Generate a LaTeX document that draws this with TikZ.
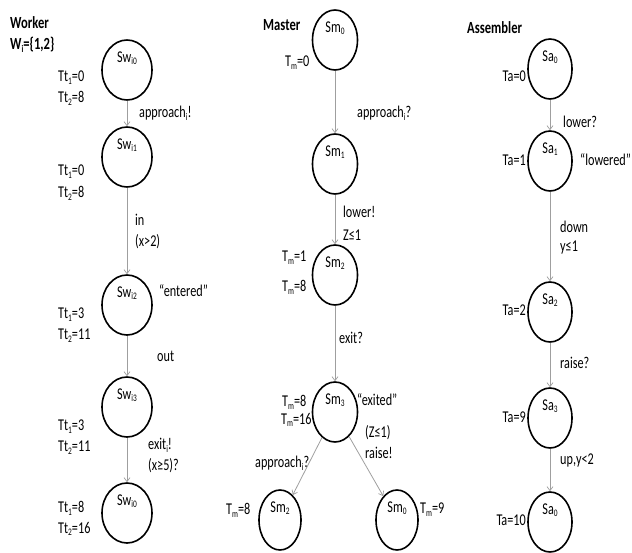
\documentclass[tikz,border=0pt]{standalone}
\usepackage{fontspec}
\setmainfont{Carlito}[FakeStretch=0.74]
\usetikzlibrary{shapes.geometric,arrows.meta}
\tikzset{
  state/.style={ellipse, draw=black, line width=1.6pt, inner sep=0pt,
                minimum width=#1, minimum height=60pt},
  state/.default=48pt,
  trans/.style={draw=gray!75, line width=0.8pt,
                -{Straight Barb[length=4pt,width=6pt,line width=0.7pt]}},
  txt/.style={inner sep=0pt, anchor=west, font=\fontsize{16.5}{18}\selectfont},
  txtr/.style={txt, anchor=east},
  head/.style={txt, font=\fontsize{17}{19}\selectfont\bfseries},
  sname/.style={label={[inner sep=0pt, anchor=north, yshift=-12pt,
                font=\fontsize{16.5}{18}\selectfont]north:#1}}
}
% small lowered index, as in Sw_{i0}
\newcommand{\sbs}[1]{\raisebox{-0.35ex}{\fontsize{10}{10}\selectfont #1}}
\begin{document}
\begin{tikzpicture}[x=1pt,y=-1pt]
\useasboundingbox (0,0) rectangle (632,552);

% ---------------- Worker ----------------
\node[head] (wtitle) at (10,23) {Worker};
\node[head] (wset) at (10,45) {W\sbs{i}=\{1,2\}};
\node[state=50pt, sname={Sw\sbs{i0}}] (w0) at (127,70) {};
\node[state=50pt, sname={Sw\sbs{i1}}] (w1) at (127,157) {};
\node[state=50pt, sname={Sw\sbs{i2}}] (w2) at (127,305) {};
\node[state=50pt, sname={Sw\sbs{i3}}] (w3) at (127,407) {};
\node[state=50pt, sname={Sw\sbs{i0}}] (w4) at (127,513) {};
\draw[trans] (w0) -- (w1);
\draw[trans] (w1) -- (w2);
\draw[trans] (w2) -- (w3);
\draw[trans] (w3) -- (w4);

\node[txt] (wt0a) at (58,78) {Tt\sbs{1}=0};
\node[txt] (wt0b) at (58,98) {Tt\sbs{2}=8};
\node[txt] (wt1a) at (58,172) {Tt\sbs{1}=0};
\node[txt] (wt1b) at (58,193) {Tt\sbs{2}=8};
\node[txt] (wt2a) at (58,315) {Tt\sbs{1}=3};
\node[txt] (wt2b) at (58,336) {Tt\sbs{2}=11};
\node[txt] (wt3a) at (58,427) {Tt\sbs{1}=3};
\node[txt] (wt3b) at (58,448) {Tt\sbs{2}=11};
\node[txt] (wt4a) at (58,508) {Tt\sbs{1}=8};
\node[txt] (wt4b) at (58,529) {Tt\sbs{2}=16};

\node[txt] (wl1) at (139,113) {approach\sbs{i}!};
\node[txt] (wl2) at (135,220) {in};
\node[txt] (wl3) at (135,242) {(x>2)};
\node[txt] (wl4) at (159,291) {“entered”};
\node[txt] (wl5) at (157,356) {out};
\node[txt] (wl6) at (148,445) {exit\sbs{i}!};
\node[txt] (wl7) at (148,466) {(x≥5)?};

% ---------------- Master ----------------
\node[head] (mtitle) at (263,25) {Master};
\node[state=45pt, sname={Sm\sbs{0}}] (m0) at (335,40) {};
\node[state=45pt, sname={Sm\sbs{1}}] (m1) at (335,164) {};
\node[state=45pt, sname={Sm\sbs{2}}] (m2) at (335,275) {};
\node[state=45pt, sname={Sm\sbs{3}}] (m3) at (335,412) {};
\node[state=42pt, sname={Sm\sbs{2}}] (m4) at (280,520) {};
\node[state=42pt, sname={Sm\sbs{0}}] (m5) at (397,520) {};
\draw[trans] (m0) -- (m1);
\draw[trans] (m1) -- (m2);
\draw[trans] (m2) -- (m3);
\draw[trans] (m3) -- (m4);
\draw[trans] (m3) -- (m5);

\node[txt] (mt0) at (285,63) {T\sbs{m}=0};
\node[txt] (mt2a) at (282,258) {T\sbs{m}=1};
\node[txt] (mt2b) at (282,287) {T\sbs{m}=8};
\node[txt] (mt3a) at (282,402) {T\sbs{m}=8};
\node[txt] (mt3b) at (281,420) {T\sbs{m}=16};
\node[txt] (mt4) at (226,510) {T\sbs{m}=8};
\node[txt] (mt5) at (420,510) {T\sbs{m}=9};

\node[txt] (ml1) at (357,113) {approach\sbs{i}?};
\node[txt] (ml2) at (343,212) {lower!};
\node[txt] (ml3) at (343,235) {Z≤1};
\node[txt] (ml4) at (339,338) {exit?};
\node[txt] (ml5) at (357,400) {“exited”};
\node[txt] (ml6) at (365,433) {(Z≤1)};
\node[txt] (ml7) at (365,453) {raise!};
\node[txt] (ml8) at (255,463) {approach\sbs{i}?};

% ---------------- Assembler ----------------
\node[head] (atitle) at (467,28) {Assembler};
\node[state=44pt, sname={Sa\sbs{0}}] (a0) at (550,69) {};
\node[state=44pt, sname={Sa\sbs{1}}] (a1) at (550,161) {};
\node[state=44pt, sname={Sa\sbs{2}}] (a2) at (550,312) {};
\node[state=44pt, sname={Sa\sbs{3}}] (a3) at (550,418) {};
\node[state=44pt, sname={Sa\sbs{0}}] (a4) at (550,522) {};
\draw[trans] (a0) -- (a1);
\draw[trans] (a1) -- (a2);
\draw[trans] (a2) -- (a3);
\draw[trans] (a3) -- (a4);

\node[txtr] (at0) at (526,76) {Ta=0};
\node[txtr] (at1) at (526,160) {Ta=1};
\node[txtr] (at2) at (526,310) {Ta=2};
\node[txtr] (at3) at (526,417) {Ta=9};
\node[txtr] (at4) at (526,520) {Ta=10};

\node[txt] (al1) at (563,122) {lower?};
\node[txt] (al2) at (580,160) {“lowered”};
\node[txt] (al3) at (560,227) {down};
\node[txt] (al4) at (560,248) {y≤1};
\node[txt] (al5) at (560,363) {raise?};
\node[txt] (al6) at (560,460) {up,y<2};
\end{tikzpicture}
\end{document}
